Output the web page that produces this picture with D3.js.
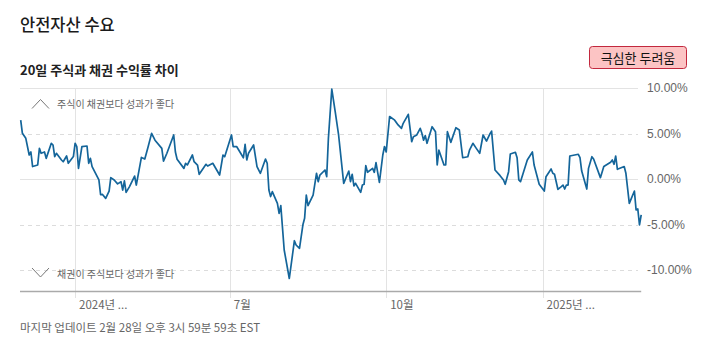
<!DOCTYPE html>
<html>
<head>
<meta charset="utf-8">
<script src="https://cdn.jsdelivr.net/npm/d3@7"></script>
<style>
  html, body { margin: 0; padding: 0; background: #fff; }
  svg { display: block; }
</style>
</head>
<body>
<svg id="chart" width="714" height="352"></svg>
<script>
// ---- data ----
const title = "안전자산 수요";
const subtitle = "20일 주식과 채권 수익률 차이";
const badgeText = "극심한 두려움";
const upNote = "주식이 채권보다 성과가 좋다";
const downNote = "채권이 주식보다 성과가 좋다";
const footer = "마지막 업데이트 2월 28일 오후 3시 59분 59초 EST";

const yTicks = [10, 5, 0, -5, -10];
const yTickLabels = ["10.00%", "5.00%", "0.00%", "-5.00%", "-10.00%"];
const xTicks = ["2024-04-01", "2024-07-01", "2024-10-01", "2025-01-01"];
const xTickLabels = ["2024년 ...", "7월", "10월", "2025년 ..."];

const dates = [
  "2024-02-29","2024-03-01","2024-03-03","2024-03-05","2024-03-06","2024-03-07","2024-03-10","2024-03-11",
  "2024-03-12","2024-03-14","2024-03-15","2024-03-18","2024-03-19","2024-03-20","2024-03-21","2024-03-24",
  "2024-03-25","2024-03-27","2024-03-28","2024-03-31","2024-04-01","2024-04-02","2024-04-03","2024-04-05",
  "2024-04-08","2024-04-09","2024-04-10","2024-04-11","2024-04-15","2024-04-16","2024-04-17","2024-04-19",
  "2024-04-21","2024-04-22","2024-04-24","2024-04-26","2024-04-28","2024-04-29","2024-04-30","2024-05-01",
  "2024-05-03","2024-05-06","2024-05-07","2024-05-10","2024-05-12","2024-05-14","2024-05-16","2024-05-18",
  "2024-05-22","2024-05-23","2024-05-25","2024-05-29","2024-05-30","2024-05-31","2024-06-04","2024-06-05",
  "2024-06-06","2024-06-09","2024-06-10","2024-06-12","2024-06-13","2024-06-17","2024-06-18","2024-06-21",
  "2024-06-25","2024-06-27","2024-06-28","2024-07-02","2024-07-03","2024-07-05","2024-07-09","2024-07-10",
  "2024-07-11","2024-07-12","2024-07-15","2024-07-17","2024-07-19","2024-07-22","2024-07-23","2024-07-24",
  "2024-07-25","2024-07-26","2024-07-29","2024-07-30","2024-07-31","2024-08-02","2024-08-05","2024-08-08",
  "2024-08-09","2024-08-11","2024-08-13","2024-08-14","2024-08-15","2024-08-16","2024-08-19","2024-08-21",
  "2024-08-22","2024-08-23","2024-08-26","2024-08-27","2024-08-28","2024-08-30","2024-09-01","2024-09-03",
  "2024-09-06","2024-09-09","2024-09-10","2024-09-11","2024-09-12","2024-09-13","2024-09-16","2024-09-17",
  "2024-09-18","2024-09-19","2024-09-20","2024-09-23","2024-09-24","2024-09-25","2024-09-27","2024-09-29",
  "2024-09-30","2024-10-01","2024-10-03","2024-10-06","2024-10-08","2024-10-10","2024-10-11","2024-10-14",
  "2024-10-16","2024-10-17","2024-10-19","2024-10-21","2024-10-22","2024-10-23","2024-10-24","2024-10-25",
  "2024-10-28","2024-10-30","2024-10-31","2024-11-01","2024-11-04","2024-11-05","2024-11-06","2024-11-08",
  "2024-11-11","2024-11-13","2024-11-15","2024-11-18","2024-11-19","2024-11-21","2024-11-23","2024-11-25",
  "2024-11-27","2024-11-29","2024-12-01","2024-12-02","2024-12-04","2024-12-07","2024-12-09","2024-12-10",
  "2024-12-12","2024-12-13","2024-12-16","2024-12-17","2024-12-18","2024-12-19","2024-12-23","2024-12-26",
  "2024-12-27","2024-12-30","2025-01-02","2025-01-03","2025-01-06","2025-01-07","2025-01-08","2025-01-10",
  "2025-01-12","2025-01-13","2025-01-14","2025-01-15","2025-01-16","2025-01-17","2025-01-22","2025-01-23",
  "2025-01-24","2025-01-27","2025-01-28","2025-01-30","2025-01-31","2025-02-04","2025-02-06","2025-02-10",
  "2025-02-11","2025-02-12","2025-02-13","2025-02-14","2025-02-18","2025-02-19","2025-02-21","2025-02-24",
  "2025-02-25","2025-02-26","2025-02-27","2025-02-28"
];
const values = [
  6.5, 5.05, 4.5, 2.67, 3.0, 1.4, 1.57, 3.4,
  2.86, 3.0, 2.3, 3.96, 3.77, 2.5, 2.86, 2.12,
  1.93, 2.56, 1.76, 2.5, 3.96, 3.6, 1.2, 3.6,
  3.66, 1.76, 2.3, 1.4, -0.07, -1.7, -1.65, -2.1,
  -1.3, 0.18, -0.07, -0.5, -0.26, -1.18, -0.18, -1.43,
  -0.8, 0.36, -0.63, 2.4, 2.23, 3.6, 5.05, 4.3,
  3.4, 2.0, 2.86, 4.87, 3.0, 2.2, 1.2, 1.76,
  1.57, 2.67, 1.93, 1.57, 0.55, 1.65, 1.46, 1.76,
  0.47, 2.67, 2.48, 4.87, 3.6, 3.6, 2.37, 3.85,
  2.12, 2.86, 3.77, 1.4, 0.66, 2.23, 1.76, -1.18,
  -1.9, -1.36, -2.64, -3.74, -2.9, -7.77, -10.9, -6.75,
  -7.22, -7.58, -5.0, -4.29, -1.73, -2.9, -1.73, 0.66,
  -0.26, 0.47, 1.02, 0.29, 4.5, 9.92, 7.43, 4.87,
  -0.44, 0.91, -0.26, 0.55, -0.73, -0.44, -1.43, -0.63,
  -0.55, 1.5, 0.77, 1.2, 0.77, 1.83, -0.33, 2.67,
  3.6, 3.0, 6.9, 6.5, 5.97, 5.6, 6.15, 7.14,
  4.13, 4.68, 4.87, 5.6, 5.05, 4.3, 4.8, 3.96,
  5.78, 5.23, 1.57, 3.2, 1.57, 1.57, 5.23, 4.06,
  5.67, 5.42, 2.37, 2.48, 3.2, 3.96, 3.4, 2.86,
  4.87, 4.2, 4.98, 5.3, 1.02, 0.4, -0.07, -0.55,
  0.84, 2.78, 2.97, 2.37, -0.07, -0.26, 2.12, 3.0,
  1.57, -0.55, -1.29, 0.29, 1.13, 0.66, 0.55, -1.1,
  -0.8, -0.63, -1.07, -0.63, -0.63, 2.56, 2.75, 2.37,
  0.91, -1.07, 1.2, 2.48, 2.23, 0.18, 1.4, 1.87,
  2.12, 1.65, 2.56, 1.1, 1.4, 0.66, -2.64, -1.29,
  -3.37, -3.26, -5.0, -3.92
];

// ---- drawing ----
const parse = d3.timeParse("%Y-%m-%d");
const data = dates.map((d, i) => ({ date: parse(d), value: values[i] }));

const svg = d3.select("#chart");
const KR = "'Noto Sans CJK KR', 'Noto Sans', sans-serif";
const LAT = "'Liberation Sans', Arial, sans-serif";

const pLeft = 20.7, pRight = 641.2, pTop = 88.3, pBottom = 270.3;
const gridLeft = 20, gridRight = 638, axisY = 291;

const x = d3.scaleTime()
  .domain([parse("2024-02-29"), parse("2025-02-28")])
  .range([pLeft, pRight]);
const y = d3.scaleLinear().domain([-10, 10]).range([pBottom, pTop]);

// title / subtitle
svg.append("text").attr("x", 20).attr("y", 31)
  .attr("font-family", KR).attr("font-size", 16.5).attr("font-weight", 500).attr("fill", "#1a1a1a")
  .text(title);
svg.append("text").attr("x", 20).attr("y", 75)
  .attr("font-family", KR).attr("font-size", 13).attr("font-weight", "bold").attr("fill", "#222")
  .text(subtitle);

// badge
const badge = svg.append("g");
badge.append("rect")
  .attr("x", 589.5).attr("y", 46.5).attr("width", 97).attr("height", 22)
  .attr("rx", 3).attr("fill", "#fcc4c4").attr("stroke", "#c2283e").attr("stroke-width", 1);
badge.append("text")
  .attr("font-family", KR).attr("font-size", 13).attr("fill", "#111")
  .attr("text-anchor", "middle").attr("dominant-baseline", "central")
  .attr("x", 638).attr("y", 57.5)
  .text(badgeText);

// vertical grid + ticks
const xt = xTicks.map(parse);
svg.append("g").selectAll("line").data(xt).join("line")
  .attr("x1", d => Math.round(x(d)) + 0.5).attr("x2", d => Math.round(x(d)) + 0.5)
  .attr("y1", pTop).attr("y2", 298)
  .attr("stroke", "#e3e3e3").attr("stroke-width", 1);

// horizontal grid
svg.append("g").selectAll("line").data(yTicks).join("line")
  .attr("x1", gridLeft).attr("x2", gridRight)
  .attr("y1", d => Math.round(y(d)) + 0.5).attr("y2", d => Math.round(y(d)) + 0.5)
  .attr("stroke", d => (d === 0 || d === 10) ? "#e3e3e3" : "#dcdcdc")
  .attr("stroke-dasharray", d => (d === 0 || d === 10) ? null : "4,4")
  .attr("stroke-width", 1);

// y labels
svg.append("g").selectAll("text").data(yTicks).join("text")
  .attr("x", 647).attr("y", d => y(d))
  .attr("dominant-baseline", "central")
  .attr("font-family", LAT).attr("font-size", 12).attr("fill", "#666")
  .text((d, i) => yTickLabels[i]);

// x axis line
svg.append("line").attr("x1", gridLeft).attr("x2", pRight)
  .attr("y1", axisY + 0.5).attr("y2", axisY + 0.5)
  .attr("stroke", "#aaa").attr("stroke-width", 1.5);

// x labels
svg.append("g").selectAll("text").data(xt).join("text")
  .attr("x", d => x(d) + 4).attr("y", 303.5)
  .attr("dominant-baseline", "central")
  .attr("font-family", KR).attr("font-size", 11.5).attr("fill", "#666")
  .text((d, i) => xTickLabels[i]);

// annotations
const notes = svg.append("g").attr("fill", "none").attr("stroke", "#777").attr("stroke-width", 1);
notes.append("polyline").attr("points", "32,108.5 40.5,99.5 49,108.5");
notes.append("polyline").attr("points", "32,268 40.5,277 49,268");
svg.append("text").attr("x", 57).attr("y", 103).attr("dominant-baseline", "central")
  .attr("font-family", KR).attr("font-size", 10).attr("fill", "#666").text(upNote);
svg.append("text").attr("x", 57).attr("y", 273).attr("dominant-baseline", "central")
  .attr("font-family", KR).attr("font-size", 10).attr("fill", "#666").text(downNote);

// line
const line = d3.line().x(d => x(d.date)).y(d => y(d.value));
svg.append("path").datum(data)
  .attr("d", line)
  .attr("fill", "none").attr("stroke", "#14659a").attr("stroke-width", 1.7)
  .attr("stroke-linejoin", "round");

// footer
svg.append("text").attr("x", 20).attr("y", 327).attr("dominant-baseline", "central")
  .attr("font-family", KR).attr("font-size", 11.5).attr("fill", "#666")
  .text(footer);
</script>
</body>
</html>
